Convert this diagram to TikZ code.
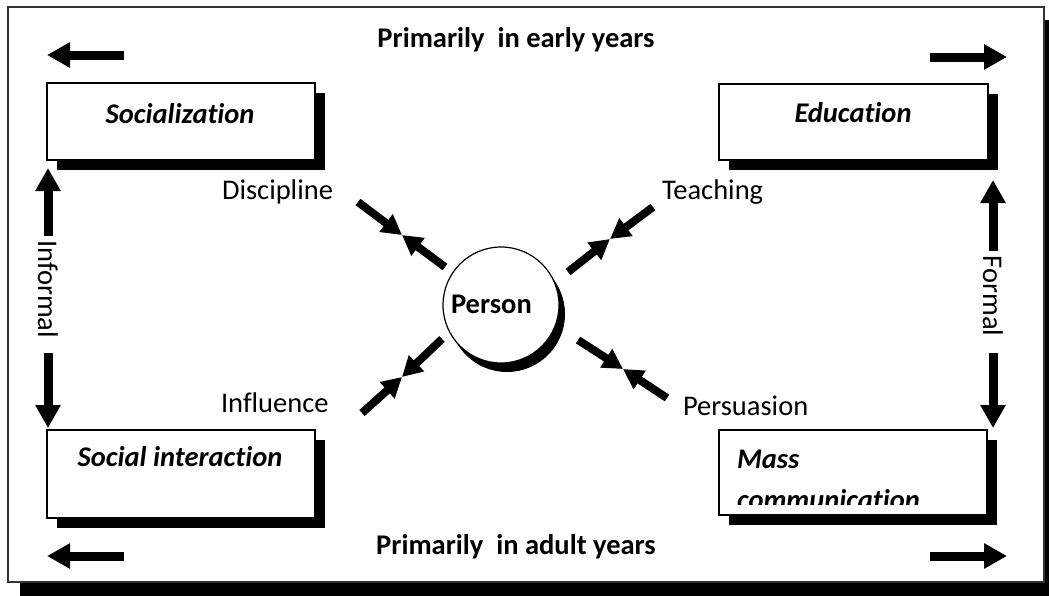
\documentclass[tikz,border=0pt]{standalone}
\usepackage{fontspec}
\setmainfont{Carlito}[Ligatures=NoCommon]
\usetikzlibrary{arrows.meta,shadows}

\begin{document}
\begin{tikzpicture}[x=1pt,y=-1pt,
  every node/.style={font=\fontsize{28.5}{39}\selectfont, inner sep=0pt, outer sep=0pt},
  frame/.style={draw=black!80, line width=1.4pt, fill=white},
  blackshadow/.style={drop shadow={shadow xshift=#1pt, shadow yshift=-#1pt, fill=black, opacity=1}},
  box/.style={draw=black, line width=1.2pt, fill=white, anchor=north west, blackshadow=10},
  boxlabel/.style={font=\fontsize{28.5}{39}\selectfont\bfseries\itshape, anchor=base},
  lbl/.style={anchor=base west},
  bigarrow/.style={line width=9pt, -{Triangle[width=24pt,length=23pt]}},
  smallarrow/.style={line width=8pt, -{Triangle[width=21pt,length=20pt]}},
]
\useasboundingbox (0,0) rectangle (1049,595);

% outer frame with its shadow
\fill[black] (20,20) rectangle (1060,600);
\draw[frame] (8,7) rectangle (1044,582);

% headings
\node[font=\fontsize{28.5}{39}\selectfont\bfseries, anchor=base] (early) at (516,47) {Primarily\ \ in early years};
\node[font=\fontsize{28.5}{39}\selectfont\bfseries, anchor=base] (adult) at (516,554) {Primarily\ \ in adult years};

% the four corner boxes
\node[box, minimum width=268pt, minimum height=77pt] (soc) at (47,83) {};
\node[boxlabel] (soc-t) at (180,123) {Socialization};

\node[box, minimum width=269pt, minimum height=76pt] (edu) at (719,84) {};
\node[boxlabel] (edu-t) at (853,122) {Education};

\node[box, minimum width=268pt, minimum height=88pt] (sint) at (47,430) {};
\node[boxlabel] (sint-t) at (180,466) {Social interaction};

\node[box, minimum width=268pt, minimum height=85pt] (mass) at (719,430) {};
\begin{scope}
  \clip (719,430) rectangle (987,504);
  \node[boxlabel, anchor=base west] (mass-t) at (737,468) {Mass};
  \node[boxlabel, anchor=base west] (mass-t2) at (737,509) {communication};
\end{scope}

% direction arrows along top and bottom
\coordinate (tl-a) at (124,55);  \coordinate (tl-b) at (47,55);
\coordinate (tr-a) at (930,57);  \coordinate (tr-b) at (1007,57);
\coordinate (bl-a) at (124,556); \coordinate (bl-b) at (47,556);
\coordinate (br-a) at (930,556); \coordinate (br-b) at (1007,556);
\draw[bigarrow] (tl-a) -- (tl-b);
\draw[bigarrow] (tr-a) -- (tr-b);
\draw[bigarrow] (bl-a) -- (bl-b);
\draw[bigarrow] (br-a) -- (br-b);

% informal / formal side arrows
\node[rotate=-90] (informal) at (48,289) {Informal};
\node[rotate=-90] (formal) at (993,296) {Formal};
\coordinate (lu-a) at (48,236);  \coordinate (lu-b) at (48,168);
\coordinate (ld-a) at (48,353);  \coordinate (ld-b) at (48,428);
\coordinate (ru-a) at (993,251); \coordinate (ru-b) at (993,180);
\coordinate (rd-a) at (993,353); \coordinate (rd-b) at (993,428);
\draw[bigarrow] (lu-a) -- (lu-b);
\draw[bigarrow] (ld-a) -- (ld-b);
\draw[bigarrow] (ru-a) -- (ru-b);
\draw[bigarrow] (rd-a) -- (rd-b);

% the person in the middle
\node[circle, draw=black, line width=1.2pt, fill=white, minimum size=116pt,
      drop shadow={shadow xshift=6pt, shadow yshift=-9pt, fill=black, opacity=1}] (person) at (501,305) {};
\node[font=\fontsize{28.5}{39}\selectfont\bfseries, anchor=base west] (person-t) at (451,313) {Person};

% labels of the four influences
\node[lbl] (disc) at (222,199) {Discipline};
\node[lbl] (teach) at (662,199) {Teaching};
\node[lbl] (infl) at (221,412) {Influence};
\node[lbl] (pers) at (683,415) {Persuasion};

% paired arrows meeting tip to tip
\coordinate (ul-m) at (402,235); \coordinate (ul-o) at (358,202); \coordinate (ul-i) at (445,267);
\coordinate (ur-m) at (610,239); \coordinate (ur-o) at (653,207); \coordinate (ur-i) at (568,272);
\coordinate (ll-m) at (402,377); \coordinate (ll-o) at (362,413); \coordinate (ll-i) at (442,339);
\coordinate (lr-m) at (623,369); \coordinate (lr-o) at (667,398); \coordinate (lr-i) at (578,340);
\foreach \c in {ul,ur,ll,lr}{
  \draw[smallarrow] (\c-o) -- (\c-m);
  \draw[smallarrow] (\c-i) -- (\c-m);
}
\end{tikzpicture}
\end{document}
